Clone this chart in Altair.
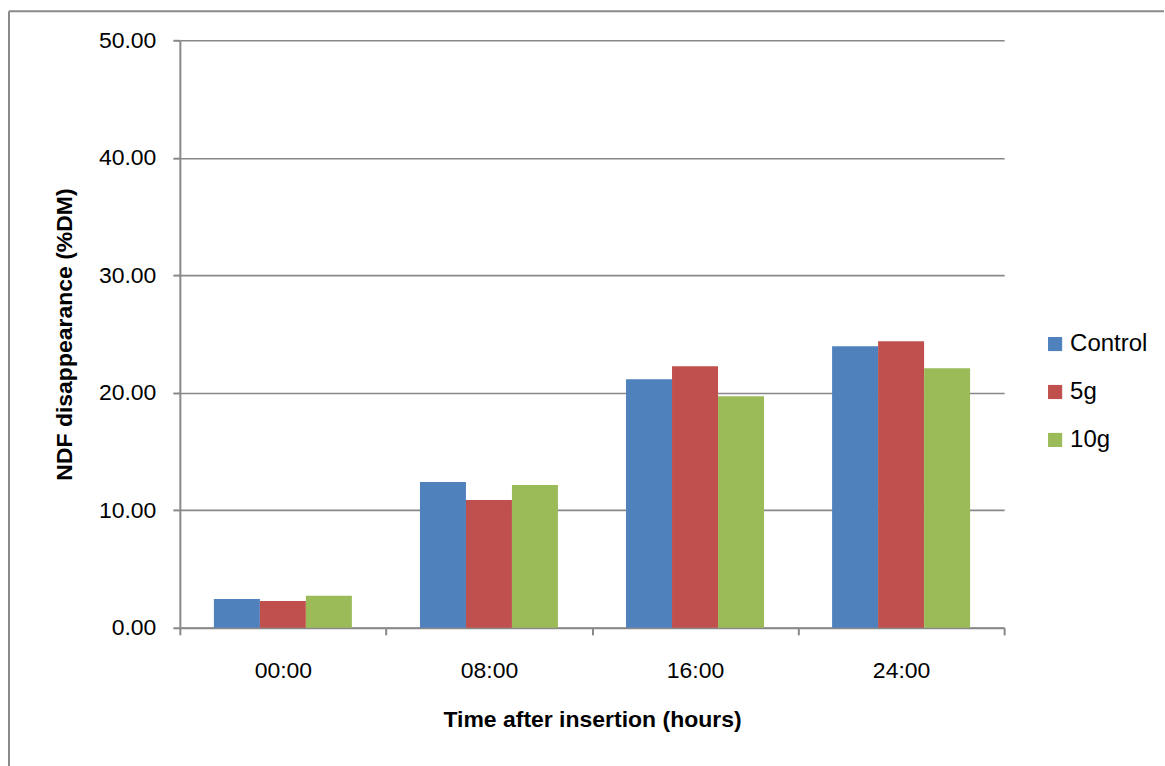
import altair as alt
import pandas as pd

# Sampling times and treatment groups
times = ["00:00", "08:00", "16:00", "24:00"]
groups = ["Control", "5g", "10g"]
colors = ["#4F81BD", "#C0504D", "#9BBB59"]

# NDF disappearance (%DM) per group at each time
control = [2.46, 12.40, 21.16, 23.96]
dose_5g = [2.29, 10.88, 22.26, 24.38]
dose_10g = [2.72, 12.15, 19.71, 22.09]

rows = []
for g, vals in zip(groups, [control, dose_5g, dose_10g]):
    for t, v in zip(times, vals):
        rows.append({"time": t, "group": g, "value": v})
df = pd.DataFrame(rows)

FONT = "Liberation Sans"
GRID = "#888888"

bars = alt.Chart(df).mark_bar().encode(
    x=alt.X(
        "time:N",
        sort=times,
        scale=alt.Scale(paddingInner=0, paddingOuter=0),
        axis=alt.Axis(
            title="Time after insertion (hours)",
            labelAngle=0,
            tickBand="extent",
            tickSize=7,
            labelPadding=25,
            titlePadding=26,
            grid=False,
        ),
    ),
    xOffset=alt.XOffset(
        "group:N", sort=groups, scale=alt.Scale(paddingOuter=0.74, paddingInner=0)
    ),
    y=alt.Y(
        "value:Q",
        scale=alt.Scale(domain=[0, 50]),
        axis=alt.Axis(
            title="NDF disappearance (%DM)",
            values=[0, 10, 20, 30, 40, 50],
            format=".2f",
            tickSize=7,
            labelPadding=17,
            titlePadding=22,
            grid=True,
        ),
    ),
    color=alt.Color(
        "group:N",
        sort=groups,
        scale=alt.Scale(domain=groups, range=colors),
        legend=alt.Legend(
            title=None,
            orient="none",
            legendX=864,
            legendY=292,
            symbolType="square",
            symbolSize=200,
            symbolStrokeWidth=0,
            rowPadding=24,
            labelFontSize=24,
            labelFont=FONT,
            labelColor="#000000",
            labelOffset=3,
        ),
    ),
)

# Frame lines around the figure (top and left edges)
frame_left = alt.Chart().mark_rule(color="#8a8a8a", strokeWidth=2).encode(
    x=alt.value(-171), y=alt.value(-29), y2=alt.value(730)
)
frame_top = alt.Chart().mark_rule(color="#8a8a8a", strokeWidth=2).encode(
    x=alt.value(-171), x2=alt.value(985), y=alt.value(-29)
)

chart = (
    alt.layer(bars, frame_left, frame_top)
    .properties(
        width=825,
        height=588,
        padding={"left": 8, "top": 10, "right": 0, "bottom": 0},
        background="#ffffff",
    )
    .configure_view(stroke=None)
    .configure_axis(
        labelFont=FONT,
        titleFont=FONT,
        labelFontSize=23,
        titleFontSize=23,
        titleFontWeight="bold",
        labelColor="#000000",
        titleColor="#000000",
        domainColor=GRID,
        domainWidth=2,
        tickColor=GRID,
        tickWidth=2,
        gridColor=GRID,
        gridWidth=1.6,
    )
)

chart.save("out.html", embed_options={"renderer": "svg", "actions": False})
